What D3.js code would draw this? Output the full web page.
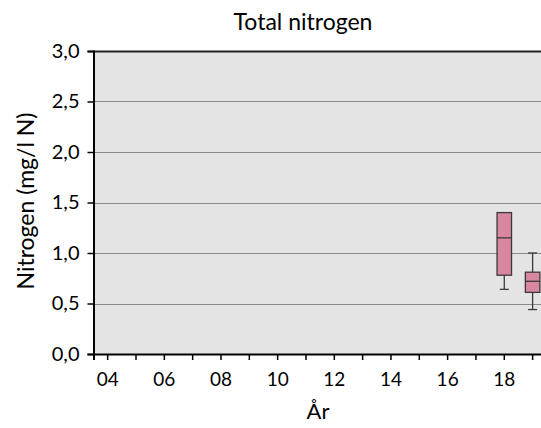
<!DOCTYPE html>
<html>
<head>
<meta charset="utf-8">
<script src="https://cdn.jsdelivr.net/npm/d3@7"></script>
<style>
  html, body { margin: 0; padding: 0; background: #ffffff; }
  svg { display: block; }
</style>
</head>
<body>
<svg id="chart" width="541" height="428"></svg>
<script>
// Years on the category axis (two-digit labels)
const years = ["04","05","06","07","08","09","10","11","12","13","14","15","16","17","18","19"];
const tickLabels = ["04","06","08","10","12","14","16","18"];
const yTicks = [0, 0.5, 1.0, 1.5, 2.0, 2.5, 3.0];

// Box statistics per year with measurements
const boxYears   = ["18", "19"];
const whiskerLow = [0.64, 0.44];
const q1         = [0.78, 0.61];
const median     = [1.15, 0.72];
const q3         = [1.40, 0.81];
const whiskerHigh= [1.40, 1.00];

const FONT = "Lato, 'Open Sans', sans-serif";
const svg = d3.select("#chart");
const W = 541, H = 428;
const margin = { left: 93.5, top: 51, bottom: 354 };
const bandW = 28.33;
const plotRight = margin.left + bandW * years.length;

const x = d3.scaleBand().domain(years).range([margin.left, plotRight]).padding(0);
const y = d3.scaleLinear().domain([0, 3]).range([margin.bottom, margin.top]);

svg.append("defs").append("clipPath").attr("id", "vis")
  .append("rect").attr("x", 0).attr("y", 0).attr("width", W).attr("height", H);

const g = svg.append("g").attr("clip-path", "url(#vis)");

// Plot background
g.append("rect")
  .attr("x", margin.left).attr("y", margin.top)
  .attr("width", plotRight - margin.left).attr("height", margin.bottom - margin.top)
  .attr("fill", "#e4e4e4");

// Horizontal gridlines
g.append("g").selectAll("line")
  .data(yTicks.filter(d => d > 0 && d < 3))
  .join("line")
  .attr("x1", margin.left).attr("x2", plotRight)
  .attr("y1", d => Math.round(y(d)) + 0.5).attr("y2", d => Math.round(y(d)) + 0.5)
  .attr("stroke", "#8a8a8a").attr("stroke-width", 1);

// Top border
g.append("line")
  .attr("x1", margin.left).attr("x2", plotRight)
  .attr("y1", margin.top + 0.5).attr("y2", margin.top + 0.5)
  .attr("stroke", "#222").attr("stroke-width", 2);

// Y axis
const yAxis = d3.axisLeft(y).tickValues(yTicks)
  .tickFormat(d => d3.format(".1f")(d).replace(".", ","))
  .tickSize(6).tickPadding(8);
const yg = g.append("g").attr("transform", `translate(${margin.left},0)`).call(yAxis)
  .attr("font-family", FONT).attr("font-size", 20);
yg.select(".domain").attr("stroke", "#000").attr("stroke-width", 2);
yg.selectAll(".tick line").attr("stroke", "#000").attr("stroke-width", 1.5);
yg.selectAll(".tick text").attr("fill", "#000");

// X axis
const xAxis = d3.axisBottom(x).tickSize(6).tickPadding(13)
  .tickFormat(d => tickLabels.includes(d) ? d : "");
const xg = g.append("g").attr("transform", `translate(0,${margin.bottom})`).call(xAxis)
  .attr("font-family", FONT).attr("font-size", 19);
xg.select(".domain").attr("stroke", "#000").attr("stroke-width", 2);
xg.selectAll(".tick line").attr("stroke", "#000").attr("stroke-width", 1.5);
xg.selectAll(".tick text").attr("fill", "#000");

// Box plots
const boxes = boxYears.map((yr, i) => ({
  yr, lo: whiskerLow[i], q1: q1[i], med: median[i], q3: q3[i], hi: whiskerHigh[i]
}));
const boxW = 14.5, capW = 9;
const bg = g.append("g");
boxes.forEach(b => {
  const cx = x(b.yr) + x.bandwidth() / 2;
  const s = "#3a3a3a";
  bg.append("line").attr("x1", cx).attr("x2", cx).attr("y1", y(b.q1)).attr("y2", y(b.lo)).attr("stroke", s).attr("stroke-width", 1.3);
  bg.append("line").attr("x1", cx - capW / 2).attr("x2", cx + capW / 2).attr("y1", y(b.lo)).attr("y2", y(b.lo)).attr("stroke", s).attr("stroke-width", 1.3);
  if (b.hi > b.q3) {
    bg.append("line").attr("x1", cx).attr("x2", cx).attr("y1", y(b.q3)).attr("y2", y(b.hi)).attr("stroke", s).attr("stroke-width", 1.3);
    bg.append("line").attr("x1", cx - capW / 2).attr("x2", cx + capW / 2).attr("y1", y(b.hi)).attr("y2", y(b.hi)).attr("stroke", s).attr("stroke-width", 1.3);
  }
  bg.append("rect")
    .attr("x", cx - boxW / 2).attr("y", y(b.q3))
    .attr("width", boxW).attr("height", y(b.q1) - y(b.q3))
    .attr("fill", "#d9869f").attr("stroke", s).attr("stroke-width", 1.3);
  bg.append("line").attr("x1", cx - boxW / 2).attr("x2", cx + boxW / 2)
    .attr("y1", y(b.med)).attr("y2", y(b.med)).attr("stroke", s).attr("stroke-width", 1.3);
});

// Titles
svg.append("text").attr("x", 303).attr("y", 30).attr("text-anchor", "middle")
  .attr("font-family", FONT).attr("font-size", 23).text("Total nitrogen");
svg.append("text").attr("x", 318).attr("y", 419).attr("text-anchor", "middle")
  .attr("font-family", FONT).attr("font-size", 22).text("År");
svg.append("text").attr("transform", "translate(34,201) rotate(-90)").attr("text-anchor", "middle")
  .attr("font-family", FONT).attr("font-size", 23).text("Nitrogen (mg/l N)");
</script>
</body>
</html>
